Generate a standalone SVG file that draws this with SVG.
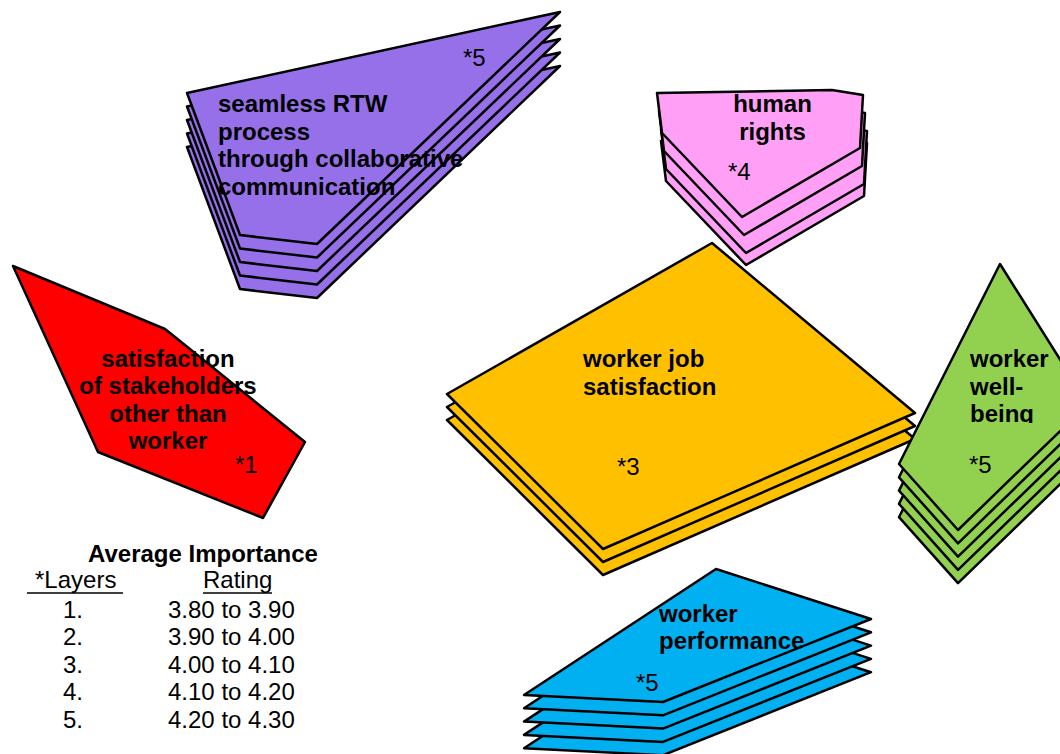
<svg xmlns="http://www.w3.org/2000/svg" xmlns:xlink="http://www.w3.org/1999/xlink" width="1060" height="754" viewBox="0 0 1060 754">
<style>
.sh{stroke:#000;stroke-width:2.5;stroke-linejoin:round}
.pu{fill:#9670E8}.pk{fill:#FF9FF6}.rd{fill:#FF0000}.ye{fill:#FFC000}.gr{fill:#92D050}.bl{fill:#00B0F0}
text{font-family:"Liberation Sans",Arial,sans-serif;font-size:24px;fill:#000}
.b{font-weight:bold}
.c{text-anchor:middle}
.ul{stroke:#000;stroke-width:1.6}
</style>
<defs>
<polygon id="shP" points="187,93 523,20 560,12 317,244 240,235"/>
<polygon id="shK" points="657,93 832,90 863,95 860,148 742,217 662,133"/>
<polygon id="shY" points="447,394 712,243 915,413 603,549"/>
<polygon id="shG" points="1000,264 1088,404 958,530 899,464"/>
<polygon id="shB" points="716,569 871,619 663,702 524,695"/>
<clipPath id="gclip"><rect x="960" y="330" width="110" height="93"/></clipPath>
</defs>
<g id="connectors"></g>
<g id="node-purple">
<use href="#shP" class="sh pu" transform="translate(0,54)"/>
<use href="#shP" class="sh pu" transform="translate(0,40.5)"/>
<use href="#shP" class="sh pu" transform="translate(0,27)"/>
<use href="#shP" class="sh pu" transform="translate(0,13.5)"/>
<use href="#shP" class="sh pu"/>
<text x="463" y="66">*5</text>
<text class="b" x="218" y="112">seamless RTW</text>
<text class="b" x="218" y="139.6">process</text>
<text class="b" x="218" y="167.2">through collaborative</text>
<text class="b" x="218" y="194.8">communication</text>
</g>
<g id="node-pink">
<use href="#shK" class="sh pk" transform="translate(4,48)"/>
<use href="#shK" class="sh pk" transform="translate(4,36)"/>
<use href="#shK" class="sh pk" transform="translate(2,18)"/>
<use href="#shK" class="sh pk"/>
<text class="b c" x="772.5" y="112">human</text>
<text class="b c" x="772.5" y="140">rights</text>
<text x="728" y="180">*4</text>
</g>
<g id="node-red">
<polygon class="sh rd" points="13,266 165,329 175,337 305,442 263,518 98,452"/>
<text class="b c" x="168" y="366.5">satisfaction</text>
<text class="b c" x="168" y="394">of stakeholders</text>
<text class="b c" x="168" y="421.5">other than</text>
<text class="b c" x="168" y="449">worker</text>
<text x="235" y="473">*1</text>
</g>
<g id="node-yellow">
<use href="#shY" class="sh ye" transform="translate(0,26)"/>
<use href="#shY" class="sh ye" transform="translate(0,13)"/>
<use href="#shY" class="sh ye"/>
<text class="b" x="583" y="367">worker job</text>
<text class="b" x="583" y="395">satisfaction</text>
<text x="617" y="475">*3</text>
</g>
<g id="node-green">
<use href="#shG" class="sh gr" transform="translate(0,53.2)"/>
<use href="#shG" class="sh gr" transform="translate(0,39.9)"/>
<use href="#shG" class="sh gr" transform="translate(0,26.6)"/>
<use href="#shG" class="sh gr" transform="translate(0,13.3)"/>
<use href="#shG" class="sh gr"/>
<g clip-path="url(#gclip)">
<text class="b" x="970" y="367">worker</text>
<text class="b" x="970" y="394.6">well-</text>
<text class="b" x="970" y="422.2">being</text>
</g>
<text x="969" y="473">*5</text>
</g>
<g id="node-blue">
<use href="#shB" class="sh bl" transform="translate(0,53.2)"/>
<use href="#shB" class="sh bl" transform="translate(0,39.9)"/>
<use href="#shB" class="sh bl" transform="translate(0,26.6)"/>
<use href="#shB" class="sh bl" transform="translate(0,13.3)"/>
<use href="#shB" class="sh bl"/>
<text class="b" x="659" y="622">worker</text>
<text class="b" x="659" y="649">performance</text>
<text x="636" y="691">*5</text>
</g>
<g id="legend">
<text class="b" x="88" y="562">Average Importance</text>
<text x="35" y="588">*Layers</text>
<line class="ul" x1="27" y1="593" x2="123" y2="593"/>
<text x="203" y="588">Rating</text>
<line class="ul" x1="203" y1="593" x2="272" y2="593"/>
<text x="63" y="618">1.</text><text x="168" y="618">3.80 to 3.90</text>
<text x="63" y="645.3">2.</text><text x="168" y="645.3">3.90 to 4.00</text>
<text x="63" y="672.6">3.</text><text x="168" y="672.6">4.00 to 4.10</text>
<text x="63" y="700">4.</text><text x="168" y="700">4.10 to 4.20</text>
<text x="63" y="727.5">5.</text><text x="168" y="727.5">4.20 to 4.30</text>
</g>
</svg>
